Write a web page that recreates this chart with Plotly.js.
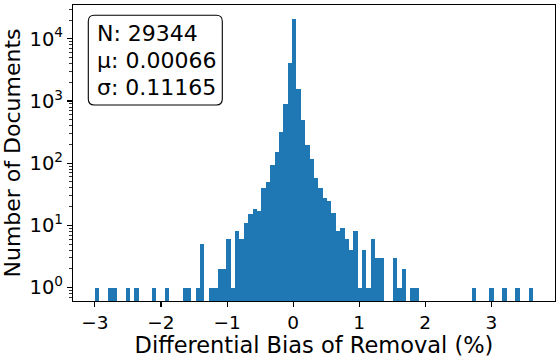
<!DOCTYPE html>
<html>
<head>
<meta charset="utf-8">
<script src="https://cdn.plot.ly/plotly-3.0.1.min.js"></script>
<style>html,body{margin:0;padding:0;background:#fff;}#chart{width:558px;height:358px;}</style>
</head>
<body>
<div id="chart"></div>
<script>
// Histogram of differential bias of removal (%), 100 bins
var binStart = -3.0;
var binEnd = 3.63;
var binCounts = [
  1, 0, 0, 1, 1, 0, 0, 1, 0, 1,
  0, 0, 0, 1, 0, 0, 1, 0, 0, 0,
  1, 1, 0, 1, 5, 0, 1, 1, 2, 2,
  6, 1, 8, 6, 11, 15, 18, 17, 40, 50,
  93, 151, 316, 889, 4020, 21100, 1545, 492, 196, 117,
  58, 40, 28, 25, 16, 8, 9, 6, 4, 8,
  1, 4, 1, 6, 3, 3, 0, 0, 3, 1,
  2, 0, 1, 1, 0, 0, 0, 0, 0, 0,
  0, 0, 0, 0, 0, 0, 1, 0, 0, 0,
  1, 0, 0, 1, 0, 0, 1, 0, 0, 1
];
var statLines = ["N: 29344", "\u03bc: 0.00066", "\u03c3: 0.11165"];
var xTickVals = [-3, -2, -1, 0, 1, 2, 3];
var yTickVals = [1, 10, 100, 1000, 10000];
var yTickText = ["10<sup>0</sup>", "10<sup>1</sup>", "10<sup>2</sup>", "10<sup>3</sup>", "10<sup>4</sup>"];
var xLabel = "Differential Bias of Removal (%)";
var yLabel = "Number of Documents";

var nBins = binCounts.length;
var binW = (binEnd - binStart) / nBins;
var centers = [], heights = [];
for (var i = 0; i < nBins; i++) {
  centers.push(binStart + (i + 0.5) * binW);
  heights.push(binCounts[i] > 0 ? binCounts[i] : null);
}

var W = 558, H = 358;
var M = {l: 73, r: 3, t: 5, b: 57};
var pw = W - M.l - M.r, ph = H - M.t - M.b;
function px2x(p) { return (p - M.l) / pw; }
function py2y(p) { return (H - M.b - p) / ph; }

// rounded box (pixel geometry converted to paper coords)
function roundBox(x0, y0, x1, y1, r) {
  var rx = r / pw, ry = r / ph;
  var L = px2x(x0), R = px2x(x1), T = py2y(y0), B = py2y(y1);
  return 'M' + (L + rx) + ',' + T +
    ' L' + (R - rx) + ',' + T +
    ' Q' + R + ',' + T + ' ' + R + ',' + (T - ry) +
    ' L' + R + ',' + (B + ry) +
    ' Q' + R + ',' + B + ' ' + (R - rx) + ',' + B +
    ' L' + (L + rx) + ',' + B +
    ' Q' + L + ',' + B + ' ' + L + ',' + (B + ry) +
    ' L' + L + ',' + (T - ry) +
    ' Q' + L + ',' + T + ' ' + (L + rx) + ',' + T + ' Z';
}

var FONT = 'DejaVu Sans, sans-serif';
var lineCenters = [33.5, 60.3, 87.1];
var annotations = statLines.map(function (t, k) {
  return {
    xref: 'paper', yref: 'paper', x: px2x(94.5), y: py2y(lineCenters[k]),
    xanchor: 'left', yanchor: 'middle', showarrow: false, text: t,
    font: {family: FONT, size: 22, color: '#000'}
  };
});

var trace = {
  type: 'bar', x: centers, y: heights, width: binW,
  marker: {color: '#1f77b4', line: {width: 0}},
  hoverinfo: 'skip'
};

var layout = {
  width: W, height: H, margin: M,
  paper_bgcolor: '#fff', plot_bgcolor: '#fff',
  showlegend: false, bargap: 0,
  font: {family: FONT, color: '#000'},
  xaxis: {
    range: [-3.332, 3.964], tickvals: xTickVals, ticks: 'outside', ticklen: 5, tickwidth: 1.1,
    tickcolor: '#000', showline: true, linecolor: '#000', linewidth: 1.1, mirror: true,
    showgrid: false, zeroline: false, tickfont: {family: FONT, size: 18.5, color: '#000'},
    title: {text: xLabel, font: {family: FONT, size: 22.5, color: '#000'}, standoff: 7}
  },
  yaxis: {
    type: 'log', range: [-0.216, 4.543], tickvals: yTickVals, ticktext: yTickText,
    ticks: 'outside', ticklen: 5, tickwidth: 1.1, tickcolor: '#000',
    showline: true, linecolor: '#000', linewidth: 1.1, mirror: true,
    showgrid: false, zeroline: false, tickfont: {family: FONT, size: 19.5, color: '#000'},
    minor: {ticks: 'outside', ticklen: 3, tickwidth: 0.8, tickcolor: '#000', dtick: 'D1', showgrid: false},
    title: {text: yLabel, font: {family: FONT, size: 22, color: '#000'}, standoff: 6}
  },
  shapes: [{
    type: 'path', xref: 'paper', yref: 'paper', path: roundBox(88.3, 15.3, 222.3, 105, 6),
    line: {color: '#000', width: 1.1}, fillcolor: 'rgba(255,255,255,0.8)', layer: 'above'
  }],
  annotations: annotations
};

Plotly.newPlot('chart', [trace], layout, {displayModeBar: false, staticPlot: true});
</script>
</body>
</html>
